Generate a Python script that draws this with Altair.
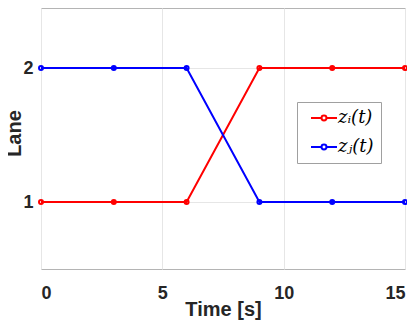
import altair as alt
import pandas as pd

time_s = [0, 3, 6, 9, 12, 15]
lane_zi = [1, 1, 1, 2, 2, 2]
lane_zj = [2, 2, 2, 1, 1, 1]
series = ["zi", "zj"]
series_labels = {"zi": "zᵢ(t)\u2002", "zj": "zⱼ(t)\u2002"}
colors = ["#ff0000", "#0000ff"]
x_ticks = [0, 5, 10, 15]
y_ticks = [1, 2]

rows = []
for t, a, b in zip(time_s, lane_zi, lane_zj):
    rows.append({"time": t, "lane": a, "series": "zi"})
    rows.append({"time": t, "lane": b, "series": "zj"})
df = pd.DataFrame(rows)

label_expr = " : ".join(
    [f"datum.value == '{k}' ? '{v}'" for k, v in series_labels.items()]
) + " : datum.value"

x = alt.X("time:Q", title="Time [s]",
          scale=alt.Scale(domain=[0, 15], nice=False, zero=False),
          axis=alt.Axis(values=x_ticks, format="d", grid=True, domain=False,
                        tickSize=0, labelPadding=15,
                        titleBaseline="alphabetic", titleY=46))
y = alt.Y("lane:Q", title="Lane",
          scale=alt.Scale(domain=[0.5, 2.448], nice=False, zero=False),
          axis=alt.Axis(values=y_ticks, format="d", grid=True, domain=False,
                        tickSize=0, labelPadding=8,
                        titleAngle=270, titleBaseline="alphabetic",
                        titleX=-21, titleY=125))
color = alt.Color("series:N",
                  scale=alt.Scale(domain=series, range=colors),
                  legend=alt.Legend(
                      title=None, orient="none", legendX=256, legendY=94,
                      labelExpr=label_expr,
                      symbolType="M-1.625,0H-0.31A0.31,0.31 0 1,1 0.31,0A0.31,0.31 0 1,1 -0.31,0M0.31,0H1.625",
                      symbolSize=256, symbolStrokeWidth=2,
                      symbolFillColor="transparent",
                      symbolOffset=11, labelOffset=5,
                      padding=7, rowPadding=11,
                      labelFont="DejaVu Serif", labelFontStyle="italic",
                      labelFontSize=18, labelColor="#000000",
                      fillColor="#ffffff", strokeColor="#a0a0a0"))

base = alt.Chart(df)
lines = base.mark_line(strokeWidth=2).encode(x=x, y=y, color=color, detail="series:N")
points = base.mark_point(filled=False, size=16, strokeWidth=2, opacity=1).encode(
    x=x, y=y, color=alt.Color("series:N", scale=alt.Scale(domain=series, range=colors), legend=None))

chart = alt.layer(lines, points).properties(
    width=364, height=261,
    autosize=alt.AutoSizeParams(type="none"),
    padding={"left": 33, "top": 0, "right": 2, "bottom": 52},
).configure_view(
    stroke="#b4b4b4", strokeWidth=1
).configure_axis(
    labelFont="Liberation Sans", labelFontSize=18, labelFontWeight="bold",
    labelColor="#262626",
    titleFont="Liberation Sans", titleFontSize=20, titleFontWeight="bold",
    titleColor="#262626",
    gridColor="#e6e6e6", gridWidth=1,
)

chart.save("out.html", embed_options={"renderer": "svg", "actions": False})
